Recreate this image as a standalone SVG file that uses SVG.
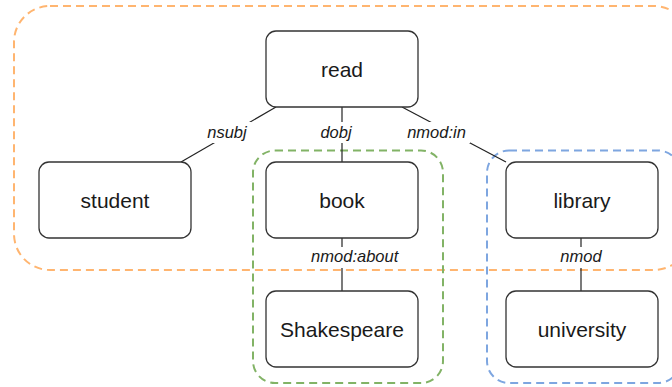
<svg xmlns="http://www.w3.org/2000/svg" width="672" height="387" viewBox="0 0 672 387">
<style>
.node rect{fill:#fff;stroke:#333;stroke-width:1.3}
.node text{font-family:"Liberation Sans",Arial,sans-serif;font-size:21px;fill:#1a1a1a;text-anchor:middle}
.grp{fill:none;stroke-width:2;stroke-dasharray:8 5}
.edge line{stroke:#222;stroke-width:1.2}
.lbl rect{fill:#fff}
.lbl text{font-family:"Liberation Sans",Arial,sans-serif;font-size:16.5px;font-style:italic;fill:#1a1a1a;text-anchor:middle}
</style>
<rect id="group-orange" class="grp" x="14" y="6" width="676" height="264" rx="36" stroke="#FFB570"/>
<rect id="group-green" class="grp" x="253" y="150.5" width="190" height="232.5" rx="22" stroke="#82B366"/>
<rect id="group-blue" class="grp" x="487" y="150.5" width="193" height="232.5" rx="22" stroke="#7EA6E0"/>
<g id="connectors" class="edge">
<line x1="276" y1="107" x2="181" y2="162"/>
<line x1="342" y1="107" x2="342" y2="162"/>
<line x1="402" y1="107" x2="506" y2="162"/>
<line x1="342" y1="238" x2="342" y2="291"/>
<line x1="581" y1="238" x2="581" y2="291"/>
<g class="lbl">
<rect x="203" y="122" width="48" height="21"/>
<text x="227" y="137.7">nsubj</text>
<rect x="317" y="122" width="38" height="21"/>
<text x="336" y="137.7">dobj</text>
<rect x="403" y="122" width="67" height="21"/>
<text x="436.5" y="137.7">nmod:in</text>
<rect x="304" y="247" width="101" height="21"/>
<text x="354.7" y="261.7">nmod:about</text>
<rect x="556" y="247" width="50" height="21"/>
<text x="581" y="261.7">nmod</text>
</g>
</g>
<g id="node-read" class="node"><rect x="266" y="31" width="152" height="76" rx="10"/><text x="342" y="76.7">read</text></g>
<g id="node-student" class="node"><rect x="39" y="162" width="152" height="76" rx="10"/><text x="115" y="207.7">student</text></g>
<g id="node-book" class="node"><rect x="266" y="162" width="152" height="76" rx="10"/><text x="342" y="207.7">book</text></g>
<g id="node-library" class="node"><rect x="506" y="162" width="152" height="76" rx="10"/><text x="582" y="207.7">library</text></g>
<g id="node-shakespeare" class="node"><rect x="266" y="291" width="152" height="76" rx="10"/><text x="342" y="336.7">Shakespeare</text></g>
<g id="node-university" class="node"><rect x="506" y="291" width="152" height="76" rx="10"/><text x="582" y="336.7">university</text></g>
</svg>
